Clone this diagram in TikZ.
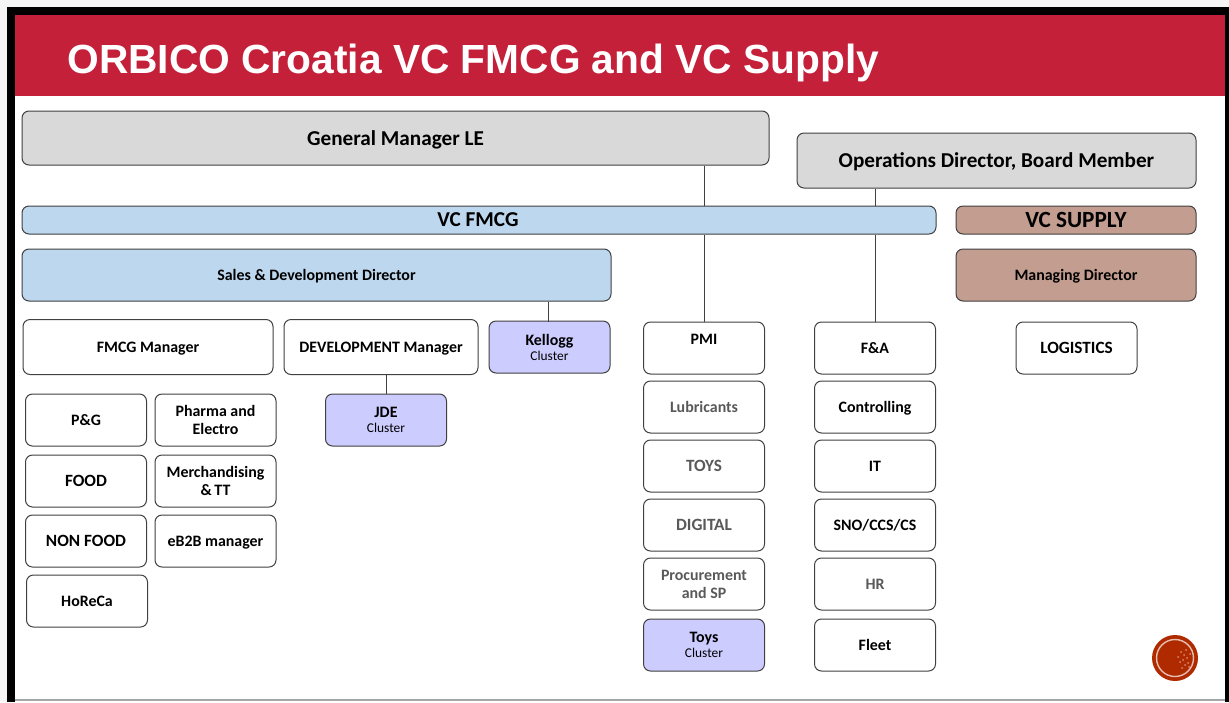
\documentclass[tikz,border=0pt]{standalone}
\usepackage{fontspec}
\setmainfont{Carlito}
\newfontfamily\titlefont{Liberation Sans}

\definecolor{banner}{HTML}{C4203A}
\definecolor{graybox}{HTML}{D9D9D9}
\definecolor{bluebox}{HTML}{BDD7EE}
\definecolor{brownbox}{HTML}{C39E90}
\definecolor{violetbox}{HTML}{CCCCFF}
\definecolor{edge}{HTML}{404040}
\definecolor{softtext}{HTML}{595959}
\definecolor{logored}{HTML}{B02A00}

\newcommand{\clusterlabel}[2]{#1\\[-1.5pt]{\fontsize{6.7}{7}\selectfont\mdseries #2}}

\tikzset{
    orgbox/.style={draw=edge, line width=0.5pt, rounded corners=3.5pt, inner sep=0pt,
        align=center, text=black, font=\fontsize{7.95}{9}\selectfont\bfseries},
    smallbox/.style={orgbox, minimum width=60.5pt, minimum height=26pt},
    softbox/.style={smallbox, text=softtext},
    clusterbox/.style={smallbox, fill=violetbox},
    headbox/.style={orgbox, font=\fontsize{10.6}{12}\selectfont\bfseries},
    capstext/.style={font=\fontsize{8.6}{9}\selectfont\bfseries},
    flat/.style={text depth=0pt},
    link/.style={draw=edge, line width=0.5pt}
}

\begin{document}
\begin{tikzpicture}[x=0.5pt,y=-0.5pt]
    \useasboundingbox (0,0) rectangle (1229,702);

    % slide frame
    \fill[black!4] (0,0) rectangle (1229,702);
    \fill[black] (7,7) rectangle (1229,702);
    \fill[white] (15,15) rectangle (1225,702);
    \fill[black!35] (15,699) rectangle (1225,701);
    \fill[banner] (15,15) rectangle (1225,96);
    \node[anchor=west, inner sep=0pt, text=white, font=\titlefont\fontsize{20.35}{24}\selectfont\bfseries] (title) at (67,63)
        {ORBICO Croatia VC FMCG and VC Supply};

    % top row
    \node[headbox, flat, fill=graybox, minimum width=373.5pt, minimum height=27pt] (gm) at (395.5,138) {General Manager LE};
    \node[headbox, flat, fill=graybox, minimum width=199.5pt, minimum height=27.5pt] (ops) at (996.5,160.5) {Operations Director, Board Member};
    \node[headbox, fill=bluebox, minimum width=457pt, minimum height=14pt] (vcfmcg) at (479,220) {\hspace*{-1pt}VC FMCG};
    \node[headbox, fill=brownbox, minimum width=120pt, minimum height=14pt, font=\fontsize{11.6}{12}\selectfont\bfseries] (vcsupply) at (1076,220) {VC SUPPLY};
    \node[orgbox, flat, fill=bluebox, minimum width=294.5pt, minimum height=26pt] (sales) at (316.5,275) {Sales \& Development Director};
    \node[orgbox, flat, fill=brownbox, minimum width=120pt, minimum height=26pt] (managing) at (1076,275) {Managing Director};

    % sales branch
    \node[orgbox, flat, minimum width=125pt, minimum height=27.5pt] (fmcgmgr) at (148,347) {FMCG Manager};
    \node[orgbox, flat, minimum width=97pt, minimum height=27.5pt] (devmgr) at (381,347) {DEVELOPMENT Manager};
    \node[clusterbox] (kellogg) at (549.5,347) {\clusterlabel{Kellogg}{Cluster}};
    \node[clusterbox] (jde) at (386,420) {\clusterlabel{JDE}{Cluster}};

    \node[smallbox] (pg) at (86,420) {P\&G};
    \node[smallbox, capstext] (food) at (86,481) {FOOD};
    \node[smallbox, capstext] (nonfood) at (86,541) {NON FOOD};
    \node[smallbox] (horeca) at (87,601) {HoReCa};
    \node[smallbox] (pharma) at (215.5,420) {Pharma and\\Electro};
    \node[smallbox] (merch) at (215.5,481) {Merchandising\\\&\,TT};
    \node[smallbox, flat] (ebb) at (215.5,541) {eB2B manager};

    % PMI column
    \node[smallbox] (pmi) at (704,348) {PMI\\~};
    \node[softbox] (lubricants) at (704,407) {Lubricants};
    \node[softbox, capstext] (toys) at (704,466) {TOYS};
    \node[softbox, capstext] (digital) at (704,525) {DIGITAL};
    \node[softbox] (procurement) at (704,584) {Procurement\\and SP};
    \node[clusterbox] (toyscluster) at (704,645) {\clusterlabel{Toys}{Cluster}};

    % F&A column
    \foreach \name/\y/\label in {fa/348/F\&A, it/466/IT, sno/525/{SNO/CCS/CS}, fleet/645/Fleet}
        \node[smallbox] (\name) at (875,\y) {\label};
    \node[smallbox, flat] (controlling) at (875,407) {Controlling};
    \node[softbox] (hr) at (875,584) {HR};

    \node[smallbox, capstext] (logistics) at (1076.5,348) {LOGISTICS};

    % connectors
    \draw[link] (gm.south -| pmi.north) -- (pmi.north |- vcfmcg.north);
    \draw[link] (pmi.north |- vcfmcg.south) -- (pmi.north);
    \draw[link] (ops.south -| fa.north) -- (fa.north |- vcfmcg.north);
    \draw[link] (fa.north |- vcfmcg.south) -- (fa.north);
    \draw[link] (sales.south -| kellogg.north) ++(-1.5,0) -- ++(0,20);
    \draw[link] (jde.north |- devmgr.south) -- (jde.north);

    % logo
    \fill[logored] (1175,658) circle (23);
    \draw[white!70!logored, line width=0.7pt] (1175,658) circle (18.5);
    \foreach \dx/\dy in {6/-6,9/-3,12/0,8/2,13/5,10/7,15/-4,5/4,11/-8,14/9,7/10,3/-1}
        \fill[white!45!logored] (1175+\dx,658+\dy) circle (1);
\end{tikzpicture}
\end{document}
